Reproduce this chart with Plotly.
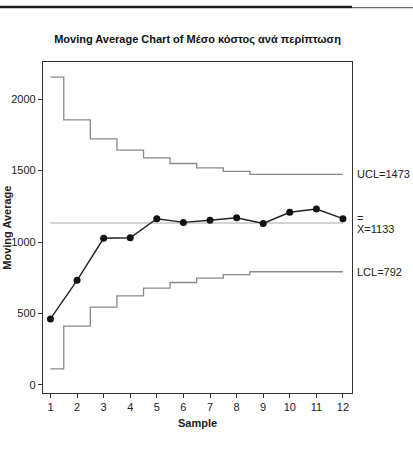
import plotly.graph_objects as go

# Moving average of cost per case, by sample
samples = [1, 2, 3, 4, 5, 6, 7, 8, 9, 10, 11, 12]
moving_avg = [462, 732, 1026, 1030, 1163, 1137, 1152, 1170, 1130, 1208, 1231, 1163]

# Control limits per sample (widen for the first samples of the span)
ucl = [2153, 1854, 1722, 1643, 1589, 1549, 1519, 1494, 1473, 1473, 1473, 1473]
lcl = [113, 412, 544, 623, 677, 717, 747, 772, 792, 792, 792, 792]
center = 1133
ucl_final = 1473
lcl_final = 792

y_ticks = [0, 500, 1000, 1500, 2000]

FONT = "Liberation Sans, Arial, sans-serif"
LIMIT_COLOR = "#8a8a8a"

fig = go.Figure()

fig.add_trace(go.Scatter(
    x=samples, y=ucl, mode="lines", line_shape="hvh",
    line=dict(color=LIMIT_COLOR, width=1.3), hoverinfo="skip", showlegend=False))
fig.add_trace(go.Scatter(
    x=samples, y=lcl, mode="lines", line_shape="hvh",
    line=dict(color=LIMIT_COLOR, width=1.3), hoverinfo="skip", showlegend=False))
fig.add_trace(go.Scatter(
    x=[samples[0], samples[-1]], y=[center, center], mode="lines",
    line=dict(color="#a8a8a8", width=1.2), hoverinfo="skip", showlegend=False))
fig.add_trace(go.Scatter(
    x=samples, y=moving_avg, mode="lines+markers",
    line=dict(color="#222222", width=1.4),
    marker=dict(color="#111111", size=7), showlegend=False))

# Limit labels on the right of the plot area
label_font = dict(family=FONT, size=11, color="#222222")
fig.add_annotation(xref="paper", x=1.01, y=ucl_final, text=f"UCL={ucl_final}",
                   showarrow=False, xanchor="left", yanchor="middle", font=label_font)
fig.add_annotation(xref="paper", x=1.01, y=center, text=f"X={center}", yshift=-6,
                   showarrow=False, xanchor="left", yanchor="middle", font=label_font)
fig.add_annotation(xref="paper", x=1.01, y=center, text="=", yshift=5,
                   showarrow=False, xanchor="left", yanchor="middle",
                   font=dict(family=FONT, size=11, color="#222222"))
fig.add_annotation(xref="paper", x=1.01, y=lcl_final, text=f"LCL={lcl_final}",
                   showarrow=False, xanchor="left", yanchor="middle", font=label_font)

# Rotated y-axis title sitting at the very left edge
fig.add_annotation(xref="paper", yref="paper", x=-0.119, y=0.5,
                   text="<b>Moving Average</b>", textangle=-90, showarrow=False,
                   xanchor="center", yanchor="middle",
                   font=dict(family=FONT, size=11, color="#222222"))

# Dark rule along the top of the page
fig.add_shape(type="line", xref="paper", yref="paper",
              x0=-0.139, x1=1.0, y0=1.166, y1=1.166,
              line=dict(color="#1a1a1a", width=2.5))
fig.add_shape(type="line", xref="paper", yref="paper",
              x0=1.0, x1=1.2, y0=1.164, y1=1.164,
              line=dict(color="#444444", width=1))

fig.update_layout(
    width=413, height=451,
    margin=dict(l=43, r=61, t=62, b=58),
    paper_bgcolor="white", plot_bgcolor="white",
    title=dict(text="<b>Moving Average Chart of Μέσο κόστος ανά περίπτωση</b>",
               x=0.5, xref="paper", y=1.0, yref="container", yanchor="top",
               pad=dict(t=35),
               font=dict(family=FONT, size=11, color="#111111")),
    font=dict(family=FONT, size=11, color="#222222"),
)

fig.update_xaxes(
    range=[0.72, 12.34], tickmode="array", tickvals=samples,
    ticks="outside", ticklen=4, tickcolor="#333333",
    showgrid=False, zeroline=False,
    showline=True, linecolor="#333333", linewidth=1.3, mirror=True,
    title=dict(text="<b>Sample</b>", standoff=6, font=dict(family=FONT, size=11)),
)
fig.update_yaxes(
    range=[-56, 2259], tickmode="array", tickvals=y_ticks,
    ticks="outside", ticklen=4, tickcolor="#333333",
    showgrid=False, zeroline=False,
    showline=True, linecolor="#333333", linewidth=1.3, mirror=True,
)

fig.write_html("out.html")
